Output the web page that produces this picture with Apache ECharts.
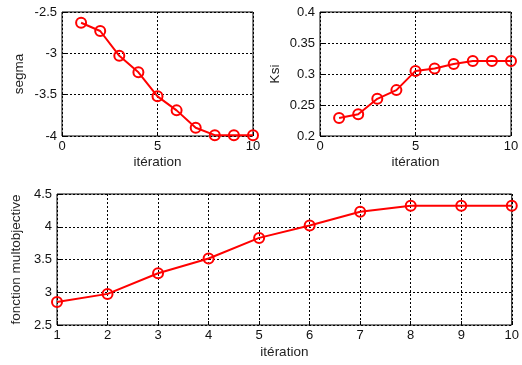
<!DOCTYPE html>
<html><head><meta charset="utf-8">
<script src="https://cdn.jsdelivr.net/npm/echarts@6/dist/echarts.min.js"></script>
<style>html,body{margin:0;padding:0;background:#fff}#c{width:522px;height:365px}</style>
</head><body><div id="c"></div>
<script>
const iterations = [1,2,3,4,5,6,7,8,9,10];
const segma = [-2.63,-2.73,-3.03,-3.23,-3.52,-3.69,-3.90,-3.99,-3.99,-3.99];
const ksi = [0.229,0.235,0.260,0.274,0.305,0.309,0.316,0.321,0.321,0.321];
const multi = [2.85,2.975,3.29,3.515,3.83,4.02,4.23,4.32,4.32,4.32];
const xTitle = 'itération';
const yTitles = ['segma','Ksi','fonction multobjective'];

const font = 'Liberation Sans, Arial, sans-serif';
function pairs(ys){return iterations.map((x,i)=>[x,ys[i]]);}
function xAxis(idx, min, max, interval){
  return {gridIndex:idx, type:'value', min, max, interval,
    name:xTitle, nameLocation:'middle', nameGap:idx===2?20:19,
    nameTextStyle:{fontFamily:font,fontSize:13.5,color:'#222'},
    axisLine:{show:false}, axisTick:{show:true,inside:true,length:4,lineStyle:{color:'#000'}},
    axisLabel:{fontFamily:font,fontSize:13,color:'#111',margin:4},
    splitLine:{show:true, lineStyle:{type:[2,2],color:'#000',width:1}}};
}
function yAxis(idx, min, max, interval, name, gap){
  return {gridIndex:idx, type:'value', min, max, interval,
    name, nameLocation:'middle', nameGap:gap, nameRotate:90,
    nameTextStyle:{fontFamily:font,fontSize:13.5,color:'#222'},
    axisLine:{show:false}, axisTick:{show:true,inside:true,length:4,lineStyle:{color:'#000'}},
    axisLabel:{fontFamily:font,fontSize:13,color:'#111',margin:5},
    splitLine:{show:true, lineStyle:{type:[2,2],color:'#000',width:1}}};
}
function series(idx, ys){
  return {type:'line', xAxisIndex:idx, yAxisIndex:idx, data:pairs(ys),
    symbol:'circle', symbolSize:10, showSymbol:true,
    lineStyle:{color:'#ff0000',width:2}, itemStyle:{color:'transparent',borderColor:'#ff0000',borderWidth:2},
    animation:false};
}
const chart = echarts.init(document.getElementById('c'), null, {renderer:'canvas'});
chart.setOption({
  animation:false,
  backgroundColor:'#fff',
  grid:[
    {left:62, top:12, width:191, height:124, show:true, borderColor:'#000', borderWidth:1, backgroundColor:'transparent'},
    {left:320, top:12, width:191, height:124, show:true, borderColor:'#000', borderWidth:1, backgroundColor:'transparent'},
    {left:57, top:194, width:455, height:131, show:true, borderColor:'#000', borderWidth:1, backgroundColor:'transparent'}
  ],
  xAxis:[xAxis(0,0,10,5), xAxis(1,0,10,5), xAxis(2,1,10,1)],
  yAxis:[yAxis(0,-4,-2.5,0.5,yTitles[0],36), yAxis(1,0.2,0.4,0.05,yTitles[1],38), yAxis(2,2.5,4.5,0.5,yTitles[2],29)],
  series:[series(0,segma), series(1,ksi), series(2,multi)]
});
</script></body></html>
